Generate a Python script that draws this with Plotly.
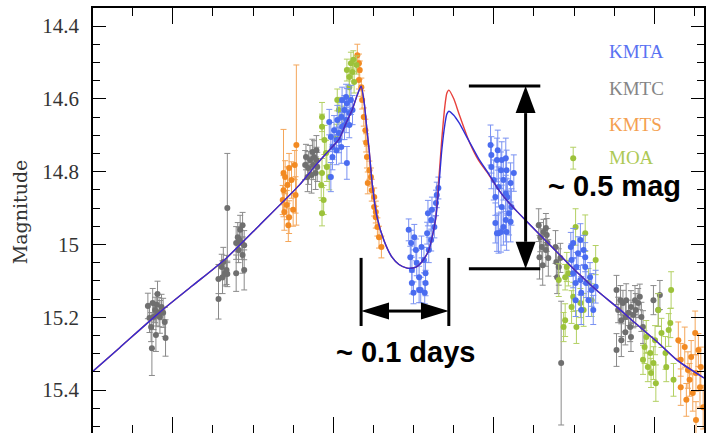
import plotly.graph_objects as go

# ---- Observations: HJD - 2457000, magnitude, uncertainty ----
kmtc_t = [842.769, 842.771, 842.774, 842.775, 842.778, 842.779, 842.780, 842.781, 842.783, 842.784,
          842.786, 842.788, 842.790, 842.791, 842.773, 842.776, 842.780,
          842.857, 842.857, 842.861, 842.862, 842.863, 842.865, 842.867, 842.868, 842.868, 842.879,
          842.879, 842.881, 842.882, 842.884, 842.886, 842.887, 842.887, 842.889, 842.889, 842.883,
          842.965, 842.966, 842.969, 842.971, 842.974, 842.975, 842.976, 842.979, 842.979, 842.980,
          842.978, 842.973, 842.968,
          843.256, 843.258, 843.260, 843.262, 843.265, 843.266, 843.267, 843.268, 843.265, 843.257, 843.261,
          843.277, 843.278, 843.281, 843.283, 843.284, 843.279,
          843.353, 843.353, 843.355, 843.358, 843.359, 843.361, 843.364, 843.365, 843.368, 843.370,
          843.371, 843.374, 843.376, 843.377, 843.380, 843.382, 843.384, 843.386, 843.371, 843.364,
          843.359, 843.399, 843.405, 843.407]
kmtc_mag = [15.169, 15.202, 15.285, 15.161, 15.180, 15.249, 15.166, 15.136, 15.186, 15.199,
            15.172, 15.188, 15.213, 15.257, 15.227, 15.199, 15.194,
            15.095, 15.150, 15.062, 15.090, 15.048, 15.079, 15.070, 14.900, 15.081, 14.996,
            15.079, 14.980, 15.015, 14.960, 14.996, 14.947, 15.029, 15.002, 15.070, 14.988,
            14.782, 14.760, 14.790, 14.768, 14.746, 14.782, 14.760, 14.741, 14.768, 14.787,
            14.804, 14.809, 14.815,
            14.947, 14.980, 15.007, 14.966, 14.955, 14.974, 14.996, 15.037, 15.015, 15.035, 15.057,
            15.007, 15.048, 15.062, 15.037, 15.326, 15.090,
            15.125, 15.290, 15.180, 15.153, 15.208, 15.161, 15.199, 15.153, 15.188, 15.227,
            15.172, 15.194, 15.153, 15.180, 15.161, 15.144, 15.199, 15.227, 15.254, 15.241,
            15.263, 15.153, 15.180, 15.139]
kmtc_err = [0.035, 0.040, 0.075, 0.040, 0.035, 0.045, 0.030, 0.035, 0.040, 0.045,
            0.035, 0.040, 0.040, 0.050, 0.040, 0.035, 0.030,
            0.040, 0.055, 0.035, 0.045, 0.040, 0.035, 0.040, 0.150, 0.035, 0.045,
            0.050, 0.040, 0.035, 0.040, 0.045, 0.035, 0.050, 0.040, 0.055, 0.035,
            0.040, 0.035, 0.045, 0.040, 0.035, 0.040, 0.045, 0.040, 0.035, 0.040,
            0.045, 0.050, 0.040,
            0.045, 0.040, 0.050, 0.035, 0.040, 0.045, 0.040, 0.050, 0.045, 0.060, 0.055,
            0.045, 0.040, 0.050, 0.040, 0.170, 0.045,
            0.040, 0.045, 0.035, 0.040, 0.045, 0.035, 0.040, 0.045, 0.035, 0.040,
            0.045, 0.035, 0.040, 0.045, 0.040, 0.035, 0.040, 0.045, 0.040, 0.035,
            0.045, 0.040, 0.045, 0.040]

kmts_t = [842.938, 842.938, 842.939, 842.940, 842.942, 842.943, 842.945, 842.945, 842.948, 842.954,
          842.950, 842.952, 842.953, 842.944, 842.937,
          843.030, 843.032, 843.033, 843.032, 843.035, 843.036, 843.038, 843.040, 843.041, 843.042,
          843.045, 843.043, 843.047, 843.048, 843.051, 843.053, 843.055, 843.057, 843.060, 843.051, 843.053,
          843.430, 843.433, 843.438, 843.442, 843.446, 843.451, 843.452, 843.455, 843.458, 843.433,
          843.440, 843.448, 843.457, 843.461, 843.452, 843.444]
kmts_mag = [14.804, 14.851, 14.911, 14.815, 14.892, 14.837, 14.925, 14.790, 14.823, 14.727,
            14.905, 14.782, 14.864, 14.947, 14.878,
            14.480, 14.502, 14.521, 14.548, 14.568, 14.603, 14.650, 14.686, 14.721, 14.760,
            14.796, 14.831, 14.815, 14.851, 14.897, 14.925, 14.952, 14.980, 15.007, 14.870, 14.911,
            15.263, 15.317, 15.282, 15.345, 15.309, 15.243, 15.353, 15.290, 15.337, 15.392,
            15.427, 15.408, 15.392, 15.447, 15.482, 15.372]
kmts_err = [0.120, 0.040, 0.050, 0.045, 0.040, 0.050, 0.045, 0.040, 0.050, 0.220,
            0.045, 0.040, 0.050, 0.045, 0.040,
            0.030, 0.025, 0.025, 0.025, 0.025, 0.025, 0.025, 0.030, 0.025, 0.030,
            0.025, 0.030, 0.025, 0.030, 0.025, 0.030, 0.025, 0.030, 0.030, 0.025, 0.030,
            0.050, 0.045, 0.055, 0.050, 0.045, 0.060, 0.050, 0.045, 0.055, 0.050,
            0.045, 0.050, 0.055, 0.060, 0.050, 0.045]

moa_t = [842.986, 842.989, 842.991, 842.986, 842.985, 842.988, 842.986, 842.992, 842.995, 843.005,
         843.007, 843.011, 843.004, 842.986,
         843.017, 843.020, 843.022, 843.024, 843.026, 843.029, 843.020, 843.025,
         843.281, 843.287, 843.289, 843.291, 843.293, 843.297, 843.299, 843.302, 843.303, 843.308,
         843.312, 843.314, 843.318, 843.322, 843.327, 843.289, 843.299,
         843.386, 843.388, 843.392, 843.395, 843.396, 843.399, 843.402, 843.405, 843.409, 843.414,
         843.415, 843.418, 843.420, 843.421, 843.424, 843.401, 843.390]
moa_mag = [14.677, 14.713, 14.749, 14.804, 14.837, 14.878, 14.914, 14.787, 14.815, 14.603,
           14.631, 14.650, 14.705, 14.650,
           14.521, 14.540, 14.502, 14.526, 14.554, 14.507, 14.568, 14.493,
           15.098, 15.227, 15.208, 15.062, 15.079, 15.172, 15.144, 14.952, 15.227, 15.161,
           15.180, 14.969, 15.106, 15.153, 15.043, 15.090, 14.763,
           15.317, 15.282, 15.337, 15.298, 15.353, 15.326, 15.381, 15.180, 15.243, 15.298,
           15.337, 15.235, 15.216, 15.125, 15.372, 15.263, 15.254]
moa_err = [0.035, 0.040, 0.035, 0.040, 0.035, 0.040, 0.035, 0.040, 0.035, 0.030,
           0.035, 0.030, 0.035, 0.040,
           0.030, 0.025, 0.030, 0.025, 0.030, 0.025, 0.030, 0.025,
           0.045, 0.040, 0.045, 0.040, 0.035, 0.045, 0.040, 0.050, 0.045, 0.040,
           0.045, 0.050, 0.040, 0.045, 0.040, 0.035, 0.030,
           0.040, 0.045, 0.040, 0.045, 0.040, 0.045, 0.050, 0.045, 0.040, 0.045,
           0.040, 0.045, 0.040, 0.050, 0.045, 0.040, 0.045]

kmta_t = [842.995, 842.997, 842.999, 843.001, 843.004, 843.005, 843.007, 843.010, 843.011, 843.014,
          843.016, 843.017, 843.020, 843.022, 843.016, 843.017, 842.997, 842.999, 843.004, 843.010,
          843.011, 843.024, 843.007, 843.014, 843.020,
          843.094, 843.097, 843.096, 843.098, 843.098, 843.101, 843.103, 843.104, 843.107, 843.109,
          843.110, 843.113, 843.115, 843.115, 843.117, 843.119, 843.122, 843.123, 843.126, 843.128,
          843.122, 843.118, 843.100, 843.107, 843.114, 843.129, 843.131,
          843.196, 843.197, 843.197, 843.200, 843.202, 843.204, 843.206, 843.209, 843.210, 843.212,
          843.215, 843.215, 843.216, 843.217, 843.219, 843.221, 843.222, 843.206, 843.216, 843.202,
          843.210, 843.205, 843.225, 843.215, 843.204, 843.209, 843.212, 843.221,
          843.296, 843.297, 843.299, 843.302, 843.303, 843.305, 843.308, 843.309, 843.312, 843.314,
          843.315, 843.318, 843.320, 843.322, 843.324, 843.327, 843.299, 843.308, 843.314, 843.302,
          843.309]
kmta_mag = [14.664, 14.705, 14.732, 14.686, 14.713, 14.658, 14.694, 14.650, 14.677, 14.631,
            14.658, 14.612, 14.639, 14.603, 14.595, 14.776, 14.815, 14.760, 14.741, 14.732,
            14.603, 14.631, 14.713, 14.672, 14.672,
            14.960, 14.996, 15.035, 15.070, 15.106, 14.980, 15.015, 15.051, 15.090, 15.125,
            15.007, 15.043, 15.079, 15.106, 14.969, 15.015, 14.933, 14.905, 14.952, 14.886,
            14.988, 14.914, 15.133, 15.125, 15.133, 14.864, 14.845,
            14.727, 14.754, 14.787, 14.823, 14.870, 14.768, 14.842, 14.796, 14.897, 14.823,
            14.860, 14.933, 14.796, 14.870, 14.914, 14.831, 14.897, 14.969, 14.966, 14.941,
            14.768, 14.741, 14.804, 14.763, 14.969, 14.966, 14.952, 14.938,
            15.007, 15.043, 15.079, 15.106, 15.062, 15.024, 15.098, 15.133, 15.015, 15.062,
            15.106, 15.153, 15.090, 15.125, 15.180, 15.116, 14.996, 14.988, 15.035, 15.153,
            15.180]
kmta_err = [0.035, 0.040, 0.035, 0.040, 0.035, 0.040, 0.035, 0.040, 0.035, 0.040,
            0.035, 0.040, 0.035, 0.040, 0.035, 0.045, 0.040, 0.035, 0.040, 0.045,
            0.035, 0.040, 0.035, 0.040, 0.035,
            0.030, 0.035, 0.030, 0.035, 0.030, 0.035, 0.030, 0.035, 0.030, 0.035,
            0.030, 0.035, 0.030, 0.035, 0.030, 0.035, 0.030, 0.035, 0.030, 0.035,
            0.030, 0.035, 0.030, 0.035, 0.030, 0.035, 0.030,
            0.055, 0.050, 0.060, 0.055, 0.050, 0.060, 0.055, 0.050, 0.060, 0.055,
            0.050, 0.060, 0.055, 0.050, 0.060, 0.055, 0.050, 0.055, 0.050, 0.055,
            0.050, 0.055, 0.050, 0.055, 0.050, 0.055, 0.050, 0.055,
            0.040, 0.045, 0.040, 0.045, 0.040, 0.045, 0.040, 0.045, 0.040, 0.045,
            0.040, 0.045, 0.040, 0.045, 0.040, 0.045, 0.040, 0.045, 0.040, 0.045,
            0.040]

# ---- Model light curves (two competing solutions) ----
model_t = [842.7006, 842.7342, 842.7839, 842.8248, 842.8671, 842.9081, 842.9577, 842.9764,
           842.9950, 843.0074, 843.0161, 843.0236, 843.0298, 843.0347, 843.0385, 843.0422,
           843.0447, 843.0484, 843.0546, 843.0633, 843.0732, 843.0819, 843.0919, 843.1006,
           843.1067, 843.1130, 843.1192, 843.1242, 843.1279, 843.1316, 843.1353, 843.1391,
           843.1415, 843.1440, 843.1502, 843.1565, 843.1689, 843.1813, 843.1937, 843.2061,
           843.2186, 843.2310, 843.2558, 843.2806, 843.3055, 843.3303, 843.3551, 843.3763,
           843.4049, 843.4297, 843.4620]
model_blue = [15.348, 15.283, 15.186, 15.113, 15.037, 14.947, 14.837, 14.787,
              14.741, 14.710, 14.666, 14.630, 14.590, 14.565, 14.610, 14.690,
              14.740, 14.830, 14.925, 14.990, 15.035, 15.055, 15.065, 15.064,
              15.057, 15.040, 15.015, 14.970, 14.925, 14.840, 14.740, 14.670,
              14.642, 14.634, 14.645, 14.665, 14.715, 14.765, 14.806, 14.850,
              14.885, 14.914, 14.970, 15.025, 15.080, 15.130, 15.175, 15.216,
              15.270, 15.320, 15.367]
model_red = [15.348, 15.283, 15.186, 15.113, 15.037, 14.947, 14.837, 14.787,
             14.741, 14.710, 14.666, 14.630, 14.590, 14.565, 14.610, 14.690,
             14.740, 14.830, 14.925, 14.990, 15.035, 15.055, 15.065, 15.064,
             15.057, 15.040, 15.015, 14.970, 14.925, 14.820, 14.710, 14.620,
             14.585, 14.576, 14.600, 14.640, 14.715, 14.770, 14.808, 14.850,
             14.885, 14.914, 14.970, 15.025, 15.080, 15.130, 15.175, 15.216,
             15.270, 15.320, 15.367]

# ---- Axis set-up ----
x_range = [842.7006, 843.462]
y_range = [15.518, 14.3505]
ytick_vals = [14.4, 14.6, 14.8, 15.0, 15.2, 15.4]
ytick_text = ["14.4", "14.6", "14.8", "15", "15.2", "15.4"]

# Annotation geometry
peak_mag, dip_mag = 14.565, 15.067
span_t0, span_t1 = 843.0347, 843.1440

observatories = [
    ("KMTC", kmtc_t, kmtc_mag, kmtc_err, "#6f6f6f", "#8a8a8a"),
    ("KMTS", kmts_t, kmts_mag, kmts_err, "#f28a22", "#f4a65a"),
    ("MOA", moa_t, moa_mag, moa_err, "#9cc23a", "#b3d063"),
    ("KMTA", kmta_t, kmta_mag, kmta_err, "#4a6cf0", "#7a92f2"),
]
for name, t, m, e, col, ecol in observatories:
    assert len(t) == len(m) == len(e), name

W, H = 706, 433
ML, MT = 93, 8
PW, PH = W - ML, H - MT

fig = go.Figure()

for name, t, m, e, col, ecol in observatories:
    fig.add_trace(go.Scatter(
        x=t, y=m, mode="markers", name=name,
        marker=dict(size=6, color=col, line=dict(width=0)),
        error_y=dict(type="data", array=e, visible=True, color=ecol, thickness=1, width=3),
        showlegend=False,
    ))

fig.add_trace(go.Scatter(x=model_t, y=model_red, mode="lines",
                         line=dict(color="#e8413c", width=1.4, shape="spline", smoothing=0.6),
                         showlegend=False, hoverinfo="skip"))
fig.add_trace(go.Scatter(x=model_t, y=model_blue, mode="lines",
                         line=dict(color="#2f2fd6", width=1.4, shape="spline", smoothing=0.6),
                         showlegend=False, hoverinfo="skip"))

# pixel -> data conversion for arrow heads
dpx = (x_range[1] - x_range[0]) / PW
mpx = (y_range[0] - y_range[1]) / PH

shapes = []
blk = dict(color="black", width=3)

# magnitude-change marker
t_arrow = 843.2397
t_l, t_r = 843.169, 843.258
head_len, head_hw = 27 * mpx, 10 * dpx
shapes += [
    dict(type="line", x0=t_l, x1=t_r, y0=peak_mag, y1=peak_mag, line=blk),
    dict(type="line", x0=t_l, x1=t_r, y0=dip_mag, y1=dip_mag, line=blk),
    dict(type="line", x0=t_arrow, x1=t_arrow, y0=peak_mag + head_len, y1=dip_mag - head_len, line=blk),
    dict(type="path", path=f"M{t_arrow},{peak_mag} L{t_arrow - head_hw},{peak_mag + head_len} "
                           f"L{t_arrow + head_hw},{peak_mag + head_len} Z",
         fillcolor="black", line=dict(width=0)),
    dict(type="path", path=f"M{t_arrow},{dip_mag} L{t_arrow - head_hw},{dip_mag - head_len} "
                           f"L{t_arrow + head_hw},{dip_mag - head_len} Z",
         fillcolor="black", line=dict(width=0)),
]

# time-span marker
bar_top, bar_bot, y_arr = 15.037, 15.224, 15.183
hl, hh = 28 * dpx, 8.5 * mpx
shapes += [
    dict(type="line", x0=span_t0, x1=span_t0, y0=bar_top, y1=bar_bot, line=blk),
    dict(type="line", x0=span_t1, x1=span_t1, y0=bar_top, y1=bar_bot, line=blk),
    dict(type="line", x0=span_t0 + hl, x1=span_t1 - hl, y0=y_arr, y1=y_arr, line=blk),
    dict(type="path", path=f"M{span_t0},{y_arr} L{span_t0 + hl},{y_arr - hh} L{span_t0 + hl},{y_arr + hh} Z",
         fillcolor="black", line=dict(width=0)),
    dict(type="path", path=f"M{span_t1},{y_arr} L{span_t1 - hl},{y_arr - hh} L{span_t1 - hl},{y_arr + hh} Z",
         fillcolor="black", line=dict(width=0)),
]

annotations = [
    dict(x=843.2645, y=14.8385, xref="x", yref="y", text="<b>~ 0.5 mag</b>", showarrow=False,
         xanchor="left", yanchor="middle", font=dict(family="Liberation Sans", size=29, color="black")),
    dict(x=843.0906, y=15.2955, xref="x", yref="y", text="<b>~ 0.1 days</b>", showarrow=False,
         xanchor="center", yanchor="middle", font=dict(family="Liberation Sans", size=29, color="black")),
    dict(x=(20 - ML) / PW, y=(H - 212) / PH, xref="paper", yref="paper", text="Magnitude",
         textangle=-90, showarrow=False, xanchor="center", yanchor="middle",
         font=dict(family="DejaVu Serif", size=19, color="#333333")),
]

legend_rows = [("KMTA", "#5a72f2", 52), ("KMTC", "#858585", 88), ("KMTS", "#f4a050", 124), ("MOA", "#adc955", 157)]
for label, col, ypx in legend_rows:
    annotations.append(dict(x=(609 - ML) / PW, y=(H - ypx) / PH, xref="paper", yref="paper",
                            text=label, showarrow=False, xanchor="left", yanchor="middle",
                            font=dict(family="Liberation Serif", size=19, color=col)))

fig.update_layout(
    width=W, height=H,
    margin=dict(l=ML, r=0, t=MT, b=0, pad=0),
    plot_bgcolor="white", paper_bgcolor="white",
    shapes=shapes, annotations=annotations,
    xaxis=dict(range=x_range, showline=True, linecolor="black", linewidth=1.5, mirror="ticks",
               ticks="inside", ticklen=16, tickwidth=1.2, tickcolor="black",
               tick0=842.8, dtick=0.2, showticklabels=False, showgrid=False, zeroline=False,
               minor=dict(ticks="inside", ticklen=8, tickwidth=1, tickcolor="black",
                          tick0=842.8, dtick=0.05, showgrid=False)),
    yaxis=dict(range=y_range, showline=True, linecolor="black", linewidth=1.5, mirror="ticks",
               ticks="inside", ticklen=13, tickwidth=1.2, tickcolor="black",
               tickmode="array", tickvals=ytick_vals, ticktext=ytick_text,
               ticklabelstandoff=8,
               tickfont=dict(family="Liberation Serif", size=21, color="#333333"),
               showgrid=False, zeroline=False,
               minor=dict(ticks="inside", ticklen=7, tickwidth=1, tickcolor="black",
                          tick0=14.4, dtick=0.05, showgrid=False)),
)

fig.write_html("out.html")
